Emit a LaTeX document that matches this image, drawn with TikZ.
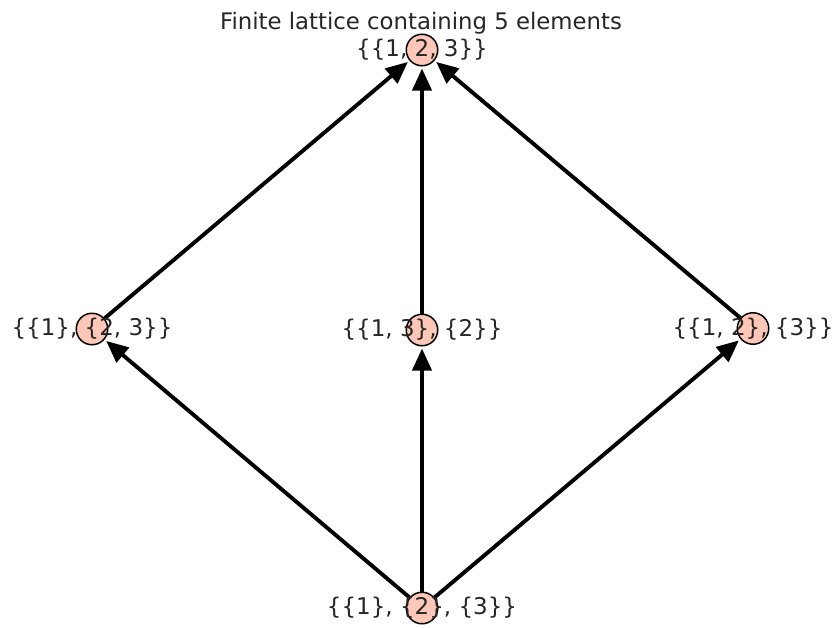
\documentclass[tikz,border=0pt]{standalone}
\usepackage{fontspec}
\setmainfont{DejaVu Sans}
\usetikzlibrary{arrows.meta}
\definecolor{vfill}{HTML}{FEC7B8}
\pgfdeclarelayer{bg}
\pgfsetlayers{bg,main}
\begin{document}
\begin{tikzpicture}[x=1pt,y=-1pt,
  vert/.style={circle,draw=black,line width=1.5pt,fill=vfill,minimum size=31.5pt,inner sep=0pt},
  lab/.style={font=\fontsize{23}{26}\selectfont,text=black!85,inner sep=0pt},
  edge/.style={line width=3.9pt,-{Triangle[length=22pt,width=19pt]},shorten >=2pt}]
\useasboundingbox (0,0) rectangle (833,627);
\node[font=\fontsize{22.8}{26}\selectfont,text=black!85,anchor=base,inner sep=0pt] (title) at (421,29) {Finite lattice containing 5 elements};
\node[vert] (t) at (422,50) {};
\node[vert] (l) at (92,329) {};
\node[vert] (m) at (422,330) {};
\node[vert] (r) at (753,328.5) {};
\node[vert] (b) at (422,608) {};
\begin{pgfonlayer}{bg}
\draw[edge] (b) -- (l);
\draw[edge] (b) -- (m);
\draw[edge] (b) -- (r);
\draw[edge] (l) -- (t);
\draw[edge] (m) -- (t);
\draw[edge] (r) -- (t);
\end{pgfonlayer}
\node[lab] (tl) at (t) {\{\{1, 2, 3\}\}};
\node[lab] (ll) at (l) {\{\{1\}, \{2, 3\}\}};
\node[lab] (ml) at (m) {\{\{1, 3\}, \{2\}\}};
\node[lab] (rl) at (r) {\{\{1, 2\}, \{3\}\}};
\node[lab] (bl) at (b) {\{\{1\}, \{2\}, \{3\}\}};
\end{tikzpicture}
\end{document}
